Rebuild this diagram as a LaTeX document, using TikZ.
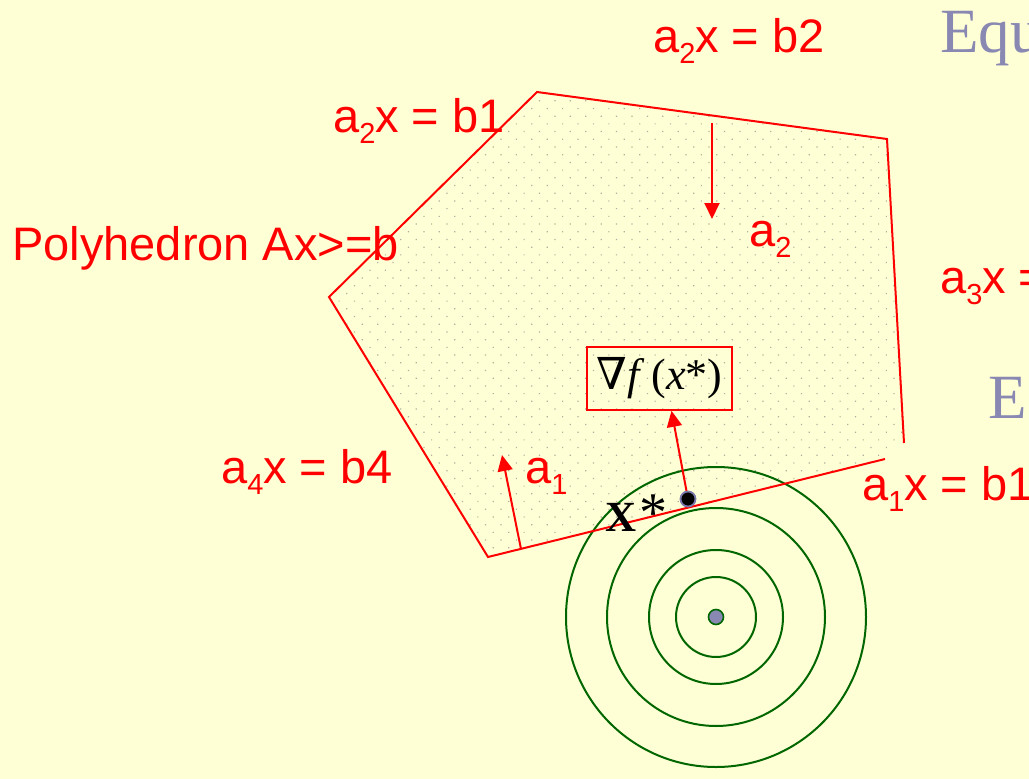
\documentclass[tikz,border=0pt]{standalone}
\usepackage{fontspec}
\setmainfont{Liberation Serif}
\newfontfamily\arialfont{Liberation Sans}
\newfontfamily\dvserif{DejaVu Serif}
\usetikzlibrary{arrows.meta,patterns.meta}
\definecolor{bgyellow}{RGB}{255,255,214}
\definecolor{dotgray}{RGB}{175,175,155}
\definecolor{slideblue}{RGB}{136,136,178}
\definecolor{contgreen}{RGB}{0,102,0}
\definecolor{pred}{RGB}{255,0,0}
\definecolor{dotrim}{RGB}{120,120,170}
\newcommand\mysub[1]{\raisebox{-0.24em}{\fontsize{29}{30}\selectfont #1}}
\begin{document}
\begin{tikzpicture}[x=1pt,y=-1pt,
  redlbl/.style={text=pred,font=\arialfont\fontsize{47}{50}\selectfont,anchor=base west,inner sep=0pt},
  titlelbl/.style={text=slideblue,font=\fontsize{63}{66}\selectfont,anchor=base west,inner sep=0pt},
  edgeline/.style={draw=pred,line width=2pt},
  vec/.style={draw=pred,line width=2pt,-{Triangle[length=16pt,width=15pt]}},
  contour/.style={draw=contgreen,line width=2pt},
]
\useasboundingbox[fill=bgyellow] (0,0) rectangle (1029,779);

% polygon vertices
\coordinate (v1) at (537,92);
\coordinate (v2) at (887,139);
\coordinate (v3) at (904,443);
\coordinate (v4) at (885,459);
\coordinate (v5) at (488,557);
\coordinate (v6) at (329,297);

\fill[pattern={Dots[distance=10.9pt,angle=45,radius=0.85pt]},pattern color=dotgray]
  (v1) -- (v2) -- (v3) -- (v4) -- (v5) -- (v6) -- cycle;

% level sets
\coordinate (ctr) at (716,617);
\foreach \r in {40,67,109,150}
  \draw[contour] (ctr) circle[radius=\r];
\draw[draw=contgreen,line width=1.6pt,fill=slideblue] (ctr) circle[radius=7.5];

% polyhedron edges
\draw[edgeline,line join=miter] (v3) -- (v2) -- (v1) -- (v6) -- (v5) -- (v4);

% normals
\coordinate (a2s) at (712,123);
\coordinate (a2e) at (712,219);
\draw[vec] (a2s) -- (a2e);
\coordinate (a1s) at (521,549);
\coordinate (a1e) at (502,455);
\draw[vec] (a1s) -- (a1e);

% gradient box
\node[draw=pred,line width=1.6pt,minimum width=145pt,minimum height=63pt,inner sep=0pt,
  font=\fontsize{44}{46}\selectfont] (grad) at (659.5,378.5)
  {{\dvserif\fontsize{44}{46}\selectfont ∇}\textit{f}\,(\textit{x}*)};
\coordinate (xs) at (688,499);
\draw[vec] (xs) -- (grad.south -| 671.5,0);
\draw[draw=dotrim,line width=1.8pt,fill=black] (xs) circle[radius=7.5];
\node[anchor=base west,inner sep=0pt,font=\fontsize{43}{44}\selectfont] (xstar) at (605,531)
  {\textbf{X}\kern3pt{\fontsize{56}{56}\selectfont *}};

% labels
\node[redlbl] (l1) at (653,52) {a\mysub{2}x = b2};
\node[redlbl] (l2) at (333,132) {a\mysub{2}x = b1};
\node[redlbl] (l3) at (12,260) {Polyhedron Ax>=b};
\node[redlbl] (l4) at (749,246) {a\mysub{2}};
\node[redlbl] (l5) at (940,293) {a\mysub{3}x =};
\node[redlbl] (l6) at (221,483) {a\mysub{4}x = b4};
\node[redlbl] (l7) at (525,483) {a\mysub{1}};
\node[redlbl] (l8) at (862,500) {a\mysub{1}x = b1};
\node[titlelbl] (t1) at (940,52) {Equ};
\node[titlelbl] (t2) at (988,418) {E};
\end{tikzpicture}
\end{document}
